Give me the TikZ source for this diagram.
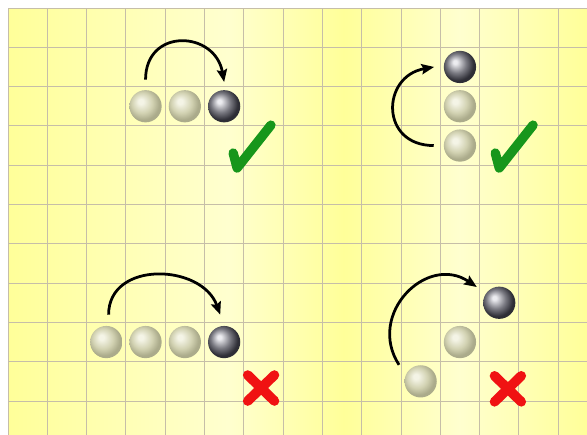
\documentclass[tikz,border=0pt]{standalone}
\usepackage{tikz}
\usetikzlibrary{arrows.meta, positioning}
\definecolor{padyellow}{HTML}{FFFF99}
\definecolor{paleyellow}{HTML}{FFFFCF}
\definecolor{gridgrey}{HTML}{C6BEA8}
\definecolor{okgreen}{HTML}{17961B}
\definecolor{badred}{HTML}{F01212}
\definecolor{beadhi}{HTML}{F4F4E6}
\definecolor{beadbody}{HTML}{D2D2B2}
\definecolor{beadrim}{HTML}{ABAB8B}
\definecolor{inkhi}{HTML}{ECECF0}
\definecolor{inkbody}{HTML}{7A7A82}
\definecolor{inkrim}{HTML}{2E2E36}
\pgfdeclarehorizontalshading{paper}{100bp}{color(0bp)=(padyellow); color(25bp)=(padyellow); color(44bp)=(paleyellow); color(54bp)=(padyellow); color(64bp)=(paleyellow); color(75bp)=(padyellow); color(100bp)=(padyellow)}
\pgfdeclareradialshading{paleglass}{\pgfpoint{-8bp}{8bp}}{color(0bp)=(beadhi); color(4bp)=(beadhi); color(16bp)=(beadbody); color(25bp)=(beadrim); color(50bp)=(beadrim)}
\pgfdeclareradialshading{darkglass}{\pgfpoint{-8bp}{8bp}}{color(0bp)=(inkhi); color(3bp)=(inkhi); color(15bp)=(inkbody); color(25bp)=(inkrim); color(50bp)=(inkrim)}
\tikzset{
	gridline/.style={draw=gridgrey, line width=0.7pt},
	bead/.style={circle, minimum size=8.2mm, inner sep=0pt, shade, shading=paleglass},
	darkbead/.style={bead, shading=darkglass},
	hop/.style={-{Stealth[length=3.2mm, width=2.6mm, inset=0.5mm]}, line width=2pt, black},
	goodmark/.style={draw=okgreen, line width=6.8pt, line cap=round, line join=round},
	badmark/.style={draw=badred, line width=7pt, line cap=round}
}

\begin{document}
\begin{tikzpicture}[on grid, node distance=1cm]
				\useasboundingbox (-0.2036,0.2036) rectangle (14.733,-10.865);
				\shade[shading=paper] (0,0) rectangle (14.733,-10.865);
				\draw[gridline] (0,-10.865) grid (14.733,0);

				\node[bead] (a1) at (3.5,-2.5) {};
				\node[bead, right=of a1] (a2) {};
				\node[darkbead, right=of a2] (a3) {};
				\draw[hop] ([yshift=2.6mm]a1.north) to[out=90, in=100, looseness=1.7] ([yshift=2mm]a3.north);
				\draw[goodmark] (5.73,-3.69) -- (5.83,-4.07) -- (6.69,-2.98);

				\node[darkbead] (b1) at (11.5,-1.5) {};
				\node[bead, below=of b1] (b2) {};
				\node[bead, below=of b2] (b3) {};
				\draw[hop] ([xshift=-2.5mm]b3.west) to[out=180, in=190, looseness=1.75] ([xshift=-2.4mm]b1.west);
				\draw[goodmark] (12.40,-3.69) -- (12.50,-4.07) -- (13.36,-2.98);

				\node[bead] (c1) at (2.5,-8.5) {};
				\node[bead, right=of c1] (c2) {};
				\node[bead, right=of c2] (c3) {};
				\node[darkbead, right=of c3] (c4) {};
				\draw[hop] ([xshift=0.6mm, yshift=2.8mm]c1.north) to[out=90, in=110, looseness=1.25] ([xshift=-1mm, yshift=2.8mm]c4.north);
				\draw[badmark] (6.10,-9.34) -- (6.78,-10.00) (6.78,-9.34) -- (6.10,-10.00);

				\node[darkbead] (d1) at (12.5,-7.5) {};
				\node[bead, below left=1cm and 1cm of d1] (d2) {};
				\node[bead, below left=1cm and 1cm of d2] (d3) {};
				\draw[hop] ([shift={(-0.55,0.42)}]d3.center) to[out=123, in=146, looseness=1.4] ([shift={(-0.57,0.40)}]d1.center);
				\draw[badmark] (12.38,-9.36) -- (13.06,-10.02) (13.06,-9.36) -- (12.38,-10.02);
			\end{tikzpicture}
\end{document}
